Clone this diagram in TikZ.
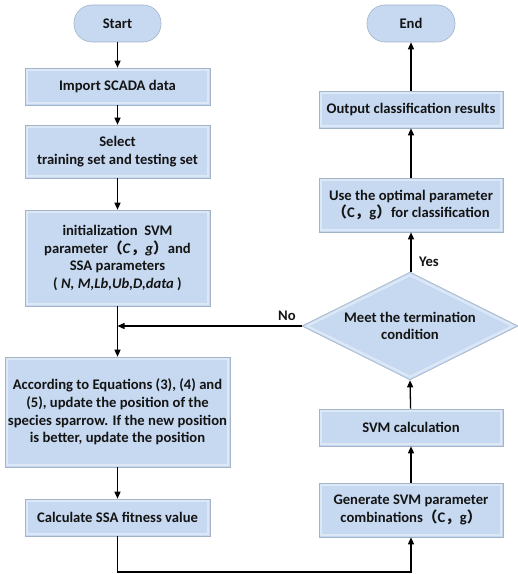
\documentclass[tikz,border=0pt]{standalone}
\usepackage{fontspec}
\setmainfont{Carlito}
\newfontfamily\cjk{Noto Sans CJK SC}
\usetikzlibrary{shapes.geometric,arrows.meta}
\definecolor{boxfill}{HTML}{C6D9F1}
\definecolor{boxline}{HTML}{A3B3C8}
\definecolor{bevel}{HTML}{DDE8F6}
\definecolor{txt}{HTML}{141414}
\newcommand{\fw}[1]{{\cjk\bfseries #1}}
\tikzset{
  every node/.style={text=txt},
  basebox/.style={fill=boxfill, draw=boxline, line width=0.6bp, align=center,
    inner sep=0pt, font=\bfseries\fontsize{14.7}{17.8}\selectfont},
  procbox/.style={basebox, rectangle,
    path picture={\draw[bevel, line width=2.2bp]
      ([shift={(1.8bp,-1.8bp)}]path picture bounding box.north west) rectangle
      ([shift={(-1.8bp,1.8bp)}]path picture bounding box.south east);}},
  termbox/.style={basebox, rectangle, rounded corners=18bp,
    minimum width=87bp, minimum height=37bp},
  decbox/.style={basebox, diamond, aspect=2, minimum width=216bp, minimum height=108bp,
    path picture={\draw[bevel, line width=2.2bp]
      ([yshift=-3bp]path picture bounding box.north) --
      ([xshift=-5bp]path picture bounding box.east) --
      ([yshift=3bp]path picture bounding box.south) --
      ([xshift=5bp]path picture bounding box.west) -- cycle;}},
  arr/.style={draw=black, line width=1.3bp, -{Triangle[length=7bp,width=6bp]}},
  lbl/.style={font=\bfseries\fontsize{14.7}{17}\selectfont}
}
\begin{document}
\begin{tikzpicture}[x=1bp,y=-1bp]
\useasboundingbox (0,0) rectangle (518,574);
% left column
\node[termbox] (start) at (117.5,23.5) {Start};
\node[procbox, minimum width=185bp, minimum height=37bp] (import) at (117.5,86.5) {Import SCADA data};
\node[procbox, minimum width=185bp, minimum height=53bp] (select) at (117.5,151.5) {Select\\training set and testing set};
\node[procbox, minimum width=185bp, minimum height=96bp] (init) at (117.5,258)
  {initialization\ \ SVM\\parameter\fw{（}\textit{C}\fw{，}\textit{g}\fw{）}and\\SSA parameters\\( \textit{N, M,Lb,Ub,D,data} )};
\node[procbox, minimum width=225bp, minimum height=110bp] (upd) at (117.5,412)
  {According to Equations (3), (4) and\\(5), update the position of the\\species sparrow. If the new position\\is better, update the position};
\node[procbox, minimum width=185bp, minimum height=37bp] (calc) at (117.5,517.5) {Calculate SSA fitness value};
% right column
\node[procbox, minimum width=184bp, minimum height=54bp] (gen) at (411,510)
  {Generate SVM parameter\\combinations\fw{（}C\fw{，}g\fw{）}};
\node[procbox, minimum width=184bp, minimum height=37bp] (svm) at (411,427.5) {SVM calculation};
\node[decbox] (dec) at (410,326) {Meet the termination\\condition};
\node[procbox, minimum width=184bp, minimum height=54bp] (use) at (411,205)
  {Use the optimal parameter\\\fw{（}C\fw{，}g\fw{）}for classification};
\node[procbox, minimum width=184bp, minimum height=37bp] (out) at (411,109.5) {Output classification results};
\node[termbox, minimum width=88bp] (end) at (411,23.5) {End};
% connectors
\coordinate (join) at (init.south |- dec.west);
\coordinate (bl) at (117.5,572);
\draw[arr] (start) -- (import);
\draw[arr] (import) -- (select);
\draw[arr] (select) -- (init);
\draw[arr] (init) -- (upd);
\draw[arr] (dec.west) -- (join);
\draw[arr] (upd) -- (calc);
\draw[arr] (calc.south) -- (bl) -| (gen.south);
\draw[arr] (gen) -- (svm);
\draw[arr] (svm) -- (dec.south);
\draw[arr] (dec.north -| use.south) -- (use);
\draw[arr] (use) -- (out);
\draw[arr] (out) -- (end);
\node[lbl] (no) at (287,316) {No};
\node[lbl] (yes) at (429,262) {Yes};
\end{tikzpicture}
\end{document}
